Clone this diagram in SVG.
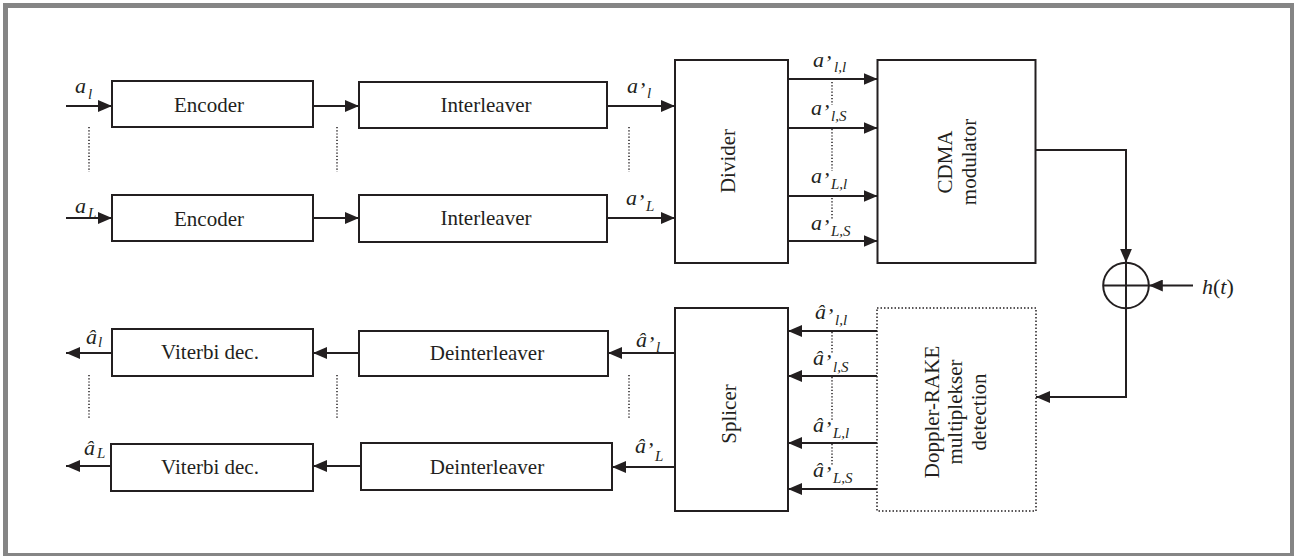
<svg xmlns="http://www.w3.org/2000/svg" width="1294" height="556" viewBox="0 0 1294 556">
<style>
.box{fill:#fff;stroke:#231f20;stroke-width:2}
.dbox{fill:#fff;stroke:#231f20;stroke-width:1.5;stroke-dasharray:1.5 2}
.ln{fill:none;stroke:#231f20;stroke-width:2}
.arr{fill:none;stroke:#231f20;stroke-width:2;marker-end:url(#ah)}
.dot{fill:none;stroke:#231f20;stroke-width:1.5;stroke-dasharray:1.2 2}
.t{font-family:"Liberation Serif","Times New Roman",serif;font-size:21px;fill:#231f20}
.tc{text-anchor:middle}
.lab{font-family:"Liberation Serif","Times New Roman",serif;font-size:22px;font-style:italic;fill:#231f20}
.sub{font-size:15px}
</style>
<defs>
<marker id="ah" markerUnits="userSpaceOnUse" markerWidth="14" markerHeight="12" refX="14" refY="6" orient="auto">
<path d="M0,0 L14,6 L0,12 z" fill="#231f20"/>
</marker>
</defs>
<rect x="0" y="0" width="1294" height="556" fill="#fff"/>
<rect x="5.5" y="5.5" width="1287" height="550" fill="none" stroke="#858585" stroke-width="5"/>

<g id="encoder1"><rect class="box" x="112" y="81" width="201" height="46"/><text class="t tc" x="209" y="112">Encoder</text></g>
<g id="encoder2"><rect class="box" x="112" y="195" width="201" height="46"/><text class="t tc" x="209" y="226">Encoder</text></g>
<g id="interleaver1"><rect class="box" x="359" y="82" width="248" height="46"/><text class="t tc" x="486" y="112">Interleaver</text></g>
<g id="interleaver2"><rect class="box" x="359" y="195" width="248" height="47"/><text class="t tc" x="486" y="225">Interleaver</text></g>
<g id="divider"><rect class="box" x="675" y="60" width="113" height="203"/><text class="t tc" transform="translate(735,161) rotate(-90)">Divider</text></g>
<g id="cdma"><rect class="box" x="877.5" y="60" width="158" height="203"/><text class="t tc" transform="translate(952,162) rotate(-90)">CDMA</text><text class="t tc" transform="translate(976,162) rotate(-90)">modulator</text></g>
<g id="adder"><circle cx="1126" cy="285.5" r="22.8" fill="#fff" stroke="#231f20" stroke-width="2"/><path class="ln" d="M1103.2,285.5 H1148.8 M1126,262.7 V308.3"/></g>
<g id="doppler"><rect class="dbox" x="877" y="308" width="159" height="203"/><text class="t tc" transform="translate(939,412) rotate(-90)">Doppler-RAKE</text><text class="t tc" transform="translate(962,412) rotate(-90)">multiplekser</text><text class="t tc" transform="translate(986,412) rotate(-90)">detection</text></g>
<g id="splicer"><rect class="box" x="675" y="308" width="113" height="203"/><text class="t tc" transform="translate(736,414) rotate(-90)">Splicer</text></g>
<g id="deinterleaver1"><rect class="box" x="359" y="331" width="249" height="45"/><text class="t tc" x="487" y="360">Deinterleaver</text></g>
<g id="deinterleaver2"><rect class="box" x="361" y="443" width="251" height="47"/><text class="t tc" x="487" y="474">Deinterleaver</text></g>
<g id="viterbi1"><rect class="box" x="112" y="329" width="201" height="47"/><text class="t tc" x="210" y="359">Viterbi dec.</text></g>
<g id="viterbi2"><rect class="box" x="111" y="444" width="202" height="47"/><text class="t tc" x="210" y="474">Viterbi dec.</text></g>

<g id="connectors">
<path class="arr" d="M66,106 H112"/>
<path class="arr" d="M66,218 H112"/>
<path class="arr" d="M313,106 H359"/>
<path class="arr" d="M313,218 H359"/>
<path class="arr" d="M607,106 H675"/>
<path class="arr" d="M607,218 H675"/>
<path class="arr" d="M788,79 H877.5"/>
<path class="arr" d="M788,128 H877.5"/>
<path class="arr" d="M788,196 H877.5"/>
<path class="arr" d="M788,241 H877.5"/>
<path class="arr" d="M1036,150 H1126 V262.7"/>
<path class="arr" d="M1193,285.5 H1148.8"/>
<path class="arr" d="M1126,308.3 V397 H1036"/>
<path class="arr" d="M877,331 H788"/>
<path class="arr" d="M877,376 H788"/>
<path class="arr" d="M877,443 H788"/>
<path class="arr" d="M877,489 H788"/>
<path class="arr" d="M675,353 H608"/>
<path class="arr" d="M675,467 H612"/>
<path class="arr" d="M359,353 H313"/>
<path class="arr" d="M361,466 H313"/>
<path class="arr" d="M112,353 H66"/>
<path class="arr" d="M111,466 H66"/>
<path class="dot" d="M89,127 V172 M337,127 V172 M629,127 V172"/>
<path class="dot" d="M832,82 V105 M832,129 V171 M832,198 V219"/>
<path class="dot" d="M89,375 V419 M337,375 V419 M629,375 V419"/>
<path class="dot" d="M832,332 V353 M832,377 V421 M832,444 V465"/>
</g>

<g id="labels">
<text class="lab" x="75" y="93">a</text><text class="lab sub" x="88" y="99">l</text>
<text class="lab" x="75" y="213">a</text><text class="lab sub" x="88" y="218">L</text>
<text class="lab" x="627" y="93">a</text><text class="lab" x="638" y="97">’</text><text class="lab sub" x="647" y="98">l</text>
<text class="lab" x="626" y="205">a</text><text class="lab" x="637" y="209">’</text><text class="lab sub" x="646" y="211">L</text>
<text class="lab" x="813" y="67">a</text><text class="lab" x="824" y="70">’</text><text class="lab sub" x="834" y="72">l,l</text>
<text class="lab" x="811" y="115">a</text><text class="lab" x="822" y="119">’</text><text class="lab sub" x="831" y="121">l,S</text>
<text class="lab" x="811" y="183">a</text><text class="lab" x="822" y="187">’</text><text class="lab sub" x="831" y="189">L,l</text>
<text class="lab" x="811" y="230">a</text><text class="lab" x="822" y="234">’</text><text class="lab sub" x="831" y="236">L,S</text>
<text class="lab" x="815" y="319">â</text><text class="lab" x="826" y="323">’</text><text class="lab sub" x="835" y="325">l,l</text>
<text class="lab" x="813" y="365">â</text><text class="lab" x="824" y="369">’</text><text class="lab sub" x="833" y="372">l,S</text>
<text class="lab" x="813" y="432">â</text><text class="lab" x="824" y="436">’</text><text class="lab sub" x="833" y="438">L,l</text>
<text class="lab" x="813" y="477">â</text><text class="lab" x="824" y="481">’</text><text class="lab sub" x="833" y="483">L,S</text>
<text class="lab" x="636" y="347">â</text><text class="lab" x="647" y="351">’</text><text class="lab sub" x="656" y="352">l</text>
<text class="lab" x="635" y="453">â</text><text class="lab" x="646" y="457">’</text><text class="lab sub" x="655" y="461">L</text>
<text class="lab" x="86" y="344">â</text><text class="lab sub" x="98" y="347">l</text>
<text class="lab" x="84" y="455">â</text><text class="lab sub" x="97" y="458">L</text>
<text class="lab" x="1202" y="294">h<tspan font-style="normal">(</tspan>t<tspan font-style="normal">)</tspan></text>
</g>
</svg>
